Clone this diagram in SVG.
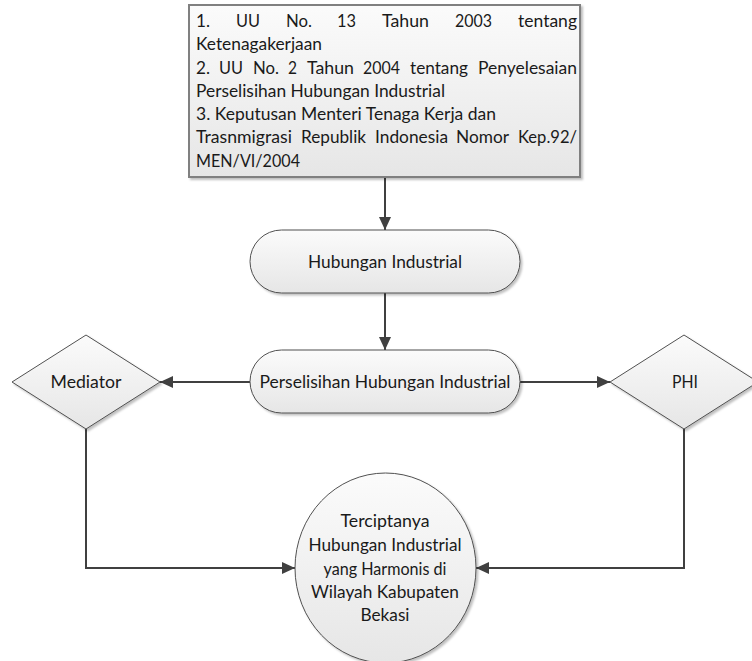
<svg xmlns="http://www.w3.org/2000/svg" width="752" height="661" viewBox="0 0 752 661">
<defs>
<linearGradient id="g" x1="0" y1="0" x2="0" y2="1">
<stop offset="0" stop-color="#fbfbfb"/>
<stop offset="1" stop-color="#e6e6e6"/>
</linearGradient>
<filter id="sh" x="-10%" y="-10%" width="130%" height="130%">
<feDropShadow dx="2" dy="2" stdDeviation="1.2" flood-color="#000" flood-opacity="0.25"/>
</filter>
<marker id="ah" markerWidth="14" markerHeight="12" refX="13" refY="6" orient="auto" markerUnits="userSpaceOnUse">
<path d="M0,0 L13,6 L0,12 Z" fill="#404040"/>
</marker>
<style>
.shape{fill:url(#g);stroke:#505050;stroke-width:1;filter:url(#sh)}
.box{fill:url(#g);stroke:#808080;stroke-width:2;filter:url(#sh)}
.t{font-family:"Lato","Liberation Sans",sans-serif;font-size:16.5px;fill:#1a1a1a}
.c{text-anchor:middle}
.con{fill:none;stroke:#404040;stroke-width:2;marker-end:url(#ah)}
</style>
</defs>
<g id="connectors">
<path class="con" d="M385,178 V230"/>
<path class="con" d="M385,293 V350"/>
<path class="con" d="M250,382 H160"/>
<path class="con" d="M520,382 H610"/>
<path class="con" d="M86,429 V568 H295"/>
<path class="con" d="M684,429 V568 H476"/>
</g>
<g id="regulations">
<rect class="box" x="189" y="5" width="391" height="172"/>
<text class="t" x="196" y="27" textLength="14" lengthAdjust="spacingAndGlyphs">1.</text>
<text class="t" x="236" y="27" textLength="24" lengthAdjust="spacingAndGlyphs">UU</text>
<text class="t" x="286" y="27" textLength="26" lengthAdjust="spacingAndGlyphs">No.</text>
<text class="t" x="337" y="27" textLength="19" lengthAdjust="spacingAndGlyphs">13</text>
<text class="t" x="382" y="27" textLength="47" lengthAdjust="spacingAndGlyphs">Tahun</text>
<text class="t" x="455" y="27" textLength="37" lengthAdjust="spacingAndGlyphs">2003</text>
<text class="t" x="518" y="27" textLength="59" lengthAdjust="spacingAndGlyphs">tentang</text>
<text class="t" x="196" y="50" textLength="126" lengthAdjust="spacingAndGlyphs">Ketenagakerjaan</text>
<text class="t" x="196" y="74" textLength="14" lengthAdjust="spacingAndGlyphs">2.</text>
<text class="t" x="219" y="74" textLength="24" lengthAdjust="spacingAndGlyphs">UU</text>
<text class="t" x="253" y="74" textLength="26" lengthAdjust="spacingAndGlyphs">No.</text>
<text class="t" x="288" y="74" textLength="9" lengthAdjust="spacingAndGlyphs">2</text>
<text class="t" x="307" y="74" textLength="47" lengthAdjust="spacingAndGlyphs">Tahun</text>
<text class="t" x="363" y="74" textLength="37" lengthAdjust="spacingAndGlyphs">2004</text>
<text class="t" x="410" y="74" textLength="58" lengthAdjust="spacingAndGlyphs">tentang</text>
<text class="t" x="478" y="74" textLength="99" lengthAdjust="spacingAndGlyphs">Penyelesaian</text>
<text class="t" x="196" y="97" textLength="249" lengthAdjust="spacingAndGlyphs">Perselisihan Hubungan Industrial</text>
<text class="t" x="196" y="120" textLength="300" lengthAdjust="spacingAndGlyphs">3. Keputusan Menteri Tenaga Kerja dan</text>
<text class="t" x="196" y="143" textLength="96" lengthAdjust="spacingAndGlyphs">Trasnmigrasi</text>
<text class="t" x="301" y="143" textLength="65" lengthAdjust="spacingAndGlyphs">Republik</text>
<text class="t" x="375" y="143" textLength="73" lengthAdjust="spacingAndGlyphs">Indonesia</text>
<text class="t" x="456" y="143" textLength="53" lengthAdjust="spacingAndGlyphs">Nomor</text>
<text class="t" x="518" y="143" textLength="59" lengthAdjust="spacingAndGlyphs">Kep.92/</text>
<text class="t" x="196" y="167" textLength="104" lengthAdjust="spacingAndGlyphs">MEN/VI/2004</text>
</g>
<g id="hubungan">
<rect class="shape" x="250" y="230" width="270" height="63" rx="31.5"/>
<text class="t c" x="385" y="268" textLength="154" lengthAdjust="spacingAndGlyphs">Hubungan Industrial</text>
</g>
<g id="perselisihan">
<rect class="shape" x="250" y="350" width="270" height="63" rx="31.5"/>
<text class="t c" x="385" y="388" textLength="251" lengthAdjust="spacingAndGlyphs">Perselisihan Hubungan Industrial</text>
</g>
<g id="mediator">
<polygon class="shape" points="86,335 160,382 86,429 12,382"/>
<text class="t c" x="86" y="388" textLength="71" lengthAdjust="spacingAndGlyphs">Mediator</text>
</g>
<g id="phi">
<polygon class="shape" points="684,335 758,382 684,429 610,382"/>
<text class="t c" x="685" y="388" textLength="26" lengthAdjust="spacingAndGlyphs">PHI</text>
</g>
<g id="hasil">
<ellipse class="shape" cx="385.5" cy="568" rx="90.5" ry="95"/>
<text class="t c" x="385" y="527" textLength="89" lengthAdjust="spacingAndGlyphs">Terciptanya</text>
<text class="t c" x="385" y="551" textLength="153" lengthAdjust="spacingAndGlyphs">Hubungan Industrial</text>
<text class="t c" x="385" y="575" textLength="123" lengthAdjust="spacingAndGlyphs">yang Harmonis di</text>
<text class="t c" x="385" y="598" textLength="148" lengthAdjust="spacingAndGlyphs">Wilayah Kabupaten</text>
<text class="t c" x="385" y="621" textLength="49" lengthAdjust="spacingAndGlyphs">Bekasi</text>
</g>
</svg>
